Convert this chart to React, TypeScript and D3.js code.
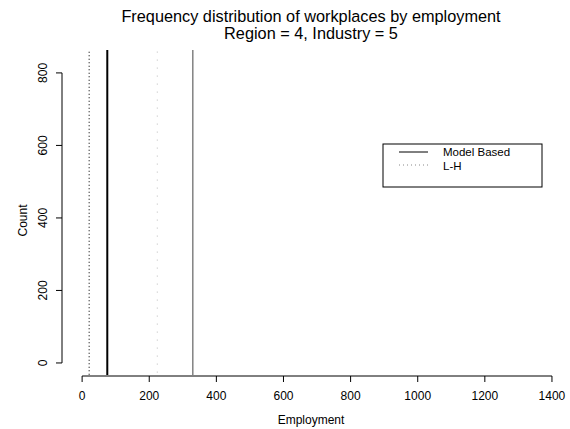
import * as d3 from "d3";
import React from "react";

// frequency curves (employment, count); counts far above the frame are clipped
const modelEmployment = [75, 75, 330, 330, 1370];
const modelCount = [-100, 6000, 6000, -100, -100];
const lhEmployment = [21, 21, 224, 224, 1370];
const lhCount = [-100, 6000, 6000, -100, -100];

const xTicks = [0, 200, 400, 600, 800, 1000, 1200, 1400];
const yTicks = [0, 200, 400, 600, 800];
const xlim = [-5, 1369];
const ylim = [0, 830];

const W = 570;
const H = 429;
const font = "Liberation Sans, Arial, sans-serif";

const pad = (r: number[]) => {
  const d = (r[1] - r[0]) * 0.04;
  return [r[0] - d, r[1] + d];
};

const App = () => {
  const x = d3.scaleLinear().domain(pad(xlim)).range([62, 560]);
  const y = d3.scaleLinear().domain(pad(ylim)).range([375, 50]);
  const [x0, x1] = x.range();
  const [yb, yt] = y.range();

  const line = d3
    .line<[number, number]>()
    .x((d) => x(d[0]))
    .y((d) => y(d[1]));

  const model = d3.zip(modelEmployment, modelCount) as [number, number][];
  const lh = d3.zip(lhEmployment, lhCount) as [number, number][];

  return (
    <svg
      width={W}
      height={H}
      style={{ position: "absolute", left: 0, top: 0, background: "#fff" }}
      fontFamily={font}
    >
      <defs>
        <clipPath id="plot">
          <rect x={x0} y={yt} width={x1 - x0} height={yb - yt} />
        </clipPath>
      </defs>

      <text x={311} y={22} textAnchor="middle" fontSize={16.3}>
        Frequency distribution of workplaces by employment
      </text>
      <text x={311} y={39} textAnchor="middle" fontSize={16.3}>
        Region = 4, Industry = 5
      </text>

      <g clipPath="url(#plot)" fill="none">
        <path d={line(lh.slice(0, 3)) ?? ""} stroke="#222" strokeWidth={1.2} strokeDasharray="1,2.5" />
        <path d={line(lh.slice(2)) ?? ""} stroke="#bbb" strokeWidth={1} strokeDasharray="1,7" />
        <path d={line(model.slice(0, 3)) ?? ""} stroke="#000" strokeWidth={2} />
        <path d={line(model.slice(2)) ?? ""} stroke="#444" strokeWidth={1} />
      </g>

      {/* x axis */}
      <g>
        <line x1={x(0)} x2={x(1400)} y1={yb + 1} y2={yb + 1} stroke="#000" />
        {xTicks.map((t) => (
          <g key={t}>
            <line x1={x(t)} x2={x(t)} y1={yb + 1} y2={yb + 7} stroke="#000" />
            <text x={x(t)} y={yb + 25} textAnchor="middle" fontSize={12}>
              {t}
            </text>
          </g>
        ))}
        <text x={(x0 + x1) / 2} y={H - 5} textAnchor="middle" fontSize={12}>
          Employment
        </text>
      </g>

      {/* y axis */}
      <g>
        <line x1={x0} x2={x0} y1={y(0)} y2={y(800)} stroke="#000" />
        {yTicks.map((t) => (
          <g key={t}>
            <line x1={x0 - 6} x2={x0} y1={y(t)} y2={y(t)} stroke="#000" />
            <text
              transform={`translate(${x0 - 15},${y(t)}) rotate(-90)`}
              textAnchor="middle"
              fontSize={12}
            >
              {t}
            </text>
          </g>
        ))}
        <text
          transform={`translate(27,${(yb + yt) / 2 + 8}) rotate(-90)`}
          textAnchor="middle"
          fontSize={12}
        >
          Count
        </text>
      </g>

      {/* legend */}
      <g>
        <rect x={383} y={144} width={159} height={43} fill="#fff" stroke="#000" />
        <line x1={399} x2={428} y1={152} y2={152} stroke="#000" />
        <line x1={399} x2={428} y1={165} y2={165} stroke="#888" strokeDasharray="1,3" />
        <text x={443} y={156} fontSize={11.5}>
          Model Based
        </text>
        <text x={443} y={169.5} fontSize={11.5}>
          L-H
        </text>
      </g>
    </svg>
  );
};

export default App;
